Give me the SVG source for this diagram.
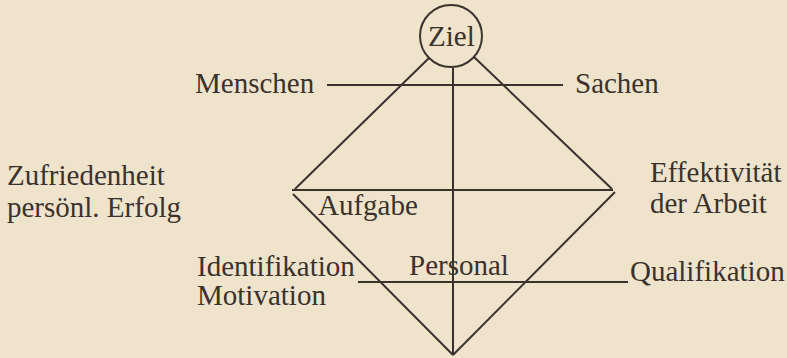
<svg xmlns="http://www.w3.org/2000/svg" width="787" height="358" viewBox="0 0 787 358">
<style>
text{font-family:"Liberation Serif","Times New Roman",serif;font-size:29px;fill:#3a332d}
.ln{stroke:#3a332d;stroke-width:2;fill:none;stroke-linecap:butt}
</style>
<rect width="787" height="358" fill="#efe3cb"/>
<g id="connectors">
<line class="ln" x1="327" y1="85" x2="563" y2="85"/>
<line class="ln" x1="453" y1="68" x2="453" y2="355"/>
<line class="ln" x1="429" y1="58" x2="295" y2="189"/>
<line class="ln" x1="474" y1="57" x2="612" y2="189"/>
<line class="ln" x1="292" y1="190" x2="613" y2="190"/>
<line class="ln" x1="293" y1="194" x2="453" y2="355"/>
<line class="ln" x1="615" y1="192" x2="453" y2="355"/>
<line class="ln" x1="358" y1="282" x2="628" y2="282"/>
</g>
<g id="ziel">
<circle class="ln" cx="451" cy="36" r="31"/>
<text x="428" y="46">Ziel</text>
</g>
<g id="menschen"><text x="195" y="93">Menschen</text></g>
<g id="sachen"><text x="575" y="93">Sachen</text></g>
<g id="zufriedenheit"><text x="7" y="185">Zufriedenheit</text><text x="7" y="217">persönl. Erfolg</text></g>
<g id="effektivitaet"><text x="650" y="182">Effektivität</text><text x="650" y="213">der Arbeit</text></g>
<g id="aufgabe"><text x="318" y="215">Aufgabe</text></g>
<g id="identifikation"><text x="197" y="276">Identifikation</text><text x="197" y="305">Motivation</text></g>
<g id="personal"><text x="409" y="275">Personal</text></g>
<g id="qualifikation"><text x="630" y="281">Qualifikation</text></g>
</svg>
